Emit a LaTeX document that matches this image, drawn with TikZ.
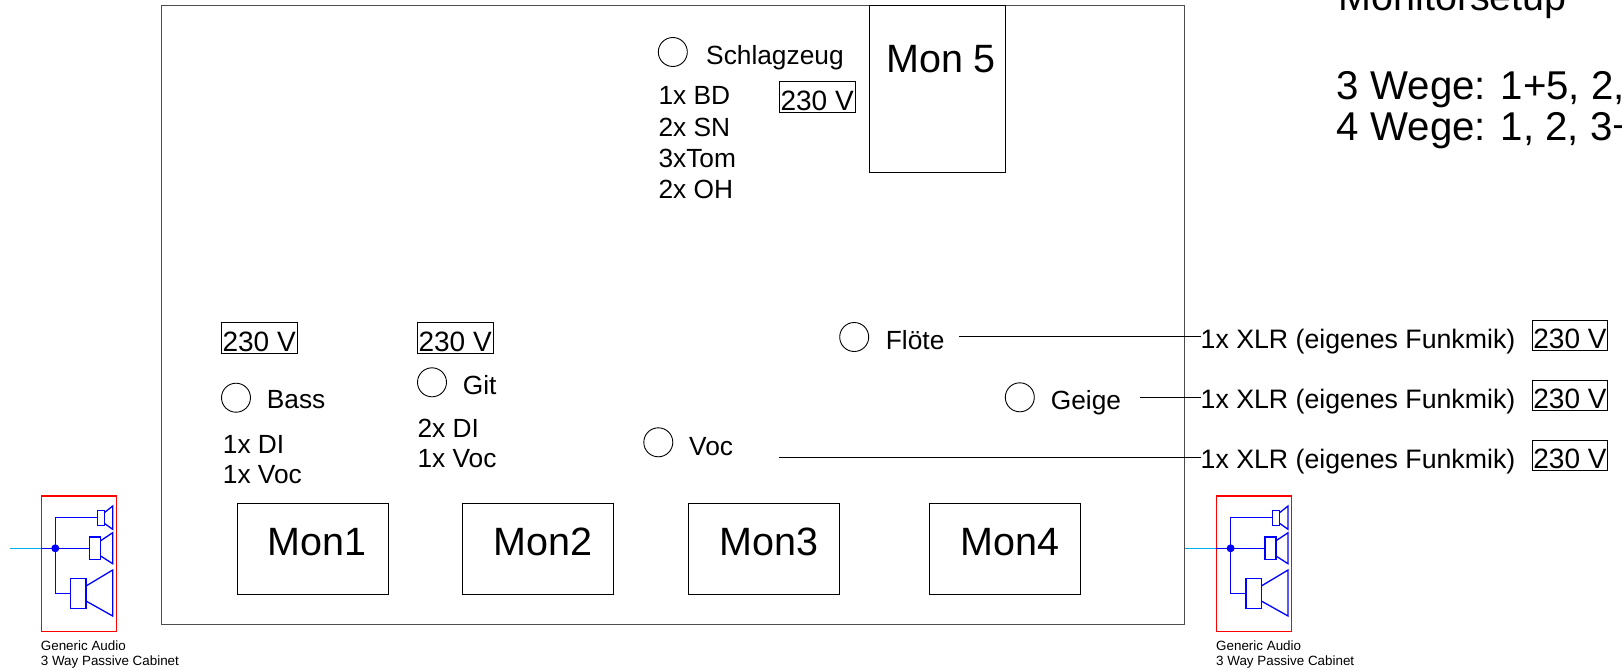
\documentclass[tikz,border=0pt]{standalone}
\usepackage{fontspec}
\setmainfont{Liberation Sans}
\begin{document}
\begin{tikzpicture}[x=1pt,y=-1pt,
  txt/.style={inner sep=0pt, anchor=base west, font=\fontsize{26.3}{30}\selectfont},
  xlrtxt/.style={inner sep=0pt, anchor=base west, font=\fontsize{26.7}{30}\selectfont},
  big/.style={inner sep=0pt, anchor=base west, font=\fontsize{39.5}{44}\selectfont},
  note/.style={inner sep=0pt, anchor=base west, font=\fontsize{40.2}{44}\selectfont},
  small/.style={inner sep=0pt, anchor=base west, font=\fontsize{13.4}{15}\selectfont},
  mic/.style={circle, draw, line width=0.9pt, minimum size=29pt, inner sep=0pt},
  monbox/.style={draw, line width=1pt, anchor=north west, minimum width=151pt, minimum height=91.3pt, inner sep=0pt},
  pwr/.style={draw, line width=0.8pt, anchor=north west, inner xsep=0pt, inner ysep=0pt,
    minimum width=75.5pt, text height=29pt, text depth=1.7pt, font=\fontsize{28}{30}\selectfont},
  wire/.style={line width=1pt},
  feed/.style={draw=cyan, line width=1pt},
  spk/.style={draw=blue, line width=1.3pt},
  cabinet/.pic={
    \node[draw=red, line width=1.3pt, anchor=north west, minimum width=75pt, minimum height=135.7pt, inner sep=0pt] (-box) at (0,0) {};
    \draw[spk] (0,53) -- (49,53);
    \draw[spk] (30,98) -- (14.6,98) -- (14.6,22.4) -- (56.6,22.4);
    \draw[spk] (56.6,15) rectangle (63.6,30);
    \draw[spk] (63.6,17.4) -- (72,10.7) -- (72,34) -- (63.6,28);
    \draw[spk] (49,41.7) rectangle (60,64);
    \draw[spk] (60,45.4) -- (72,37.4) -- (72,68.4) -- (60,60.7);
    \draw[spk] (30,83) rectangle (45.3,113);
    \draw[spk] (45.3,90.7) -- (72,74.7) -- (72,120.7) -- (45.3,105.7);
    \node[circle, fill=blue, inner sep=0pt, minimum size=8pt] (-dot) at (14.6,53) {};
    \node[small] (-t1) at (0,154.7) {Generic Audio};
    \node[small] (-t2) at (0,169.7) {3 Way Passive Cabinet};
  }]
\useasboundingbox (0,0) rectangle (1622,670);

% stage frame
\node[draw=black!70, line width=1pt, anchor=north west, minimum width=1023pt, minimum height=618.7pt, inner sep=0pt] (stage) at (161,5) {};

% monitor boxes
\node[monbox] (mon1) at (236.7,502.7) {};
\node[monbox] (mon2) at (462.3,502.7) {};
\node[monbox] (mon3) at (688.3,502.7) {};
\node[monbox] (mon4) at (929.3,502.7) {};
\node[big] (mon1t) at (267.7,555) {Mon1};
\node[big] (mon2t) at (493.3,555) {Mon2};
\node[big] (mon3t) at (719.3,555) {Mon3};
\node[big] (mon4t) at (960,555) {Mon4};
\node[draw, line width=1pt, anchor=north west, minimum width=136pt, minimum height=166.7pt, inner sep=0pt] (mon5) at (869,5) {};
\node[big] (mon5t) at (886,72.3) {Mon 5};

% drums
\node[mic] (drum) at (672.8,52) {};
\node[txt] (drumt) at (706,64.3) {Schlagzeug};
\node[txt] (d1) at (658.3,104.5) {1x BD};
\node[txt] (d2) at (658.3,136) {2x SN};
\node[txt] (d3) at (658.3,167.5) {3xTom};
\node[txt] (d4) at (658.3,198) {2x OH};
\node[pwr] (p0) at (779,81) {230 V};

% bass
\node[pwr] (p1) at (221,322) {230 V};
\node[mic] (bass) at (236,397.7) {};
\node[txt] (basst) at (266.7,408.3) {Bass};
\node[txt] (b1) at (222.7,453) {1x DI};
\node[txt] (b2) at (222.7,483) {1x Voc};

% guitar
\node[pwr] (p2) at (417,322) {230 V};
\node[mic] (git) at (432,382.3) {};
\node[txt] (gitt) at (462.7,394) {Git};
\node[txt] (g1) at (417.3,437.7) {2x DI};
\node[txt] (g2) at (417.3,467.7) {1x Voc};

% flute, violin, vocals
\node[mic] (fl) at (854.2,337) {};
\node[txt] (flt) at (885.7,349.3) {Flöte};
\node[mic] (ge) at (1019.8,397.3) {};
\node[txt] (get) at (1050.7,409) {Geige};
\node[mic] (voc) at (658.3,442.3) {};
\node[txt] (voct) at (689,455) {Voc};

% XLR feeds
\node[xlrtxt] (xlr1) at (1200.5,348.5) {1x XLR (eigenes Funkmik)};
\node[xlrtxt] (xlr2) at (1200.5,408.5) {1x XLR (eigenes Funkmik)};
\node[xlrtxt] (xlr3) at (1200.5,468.5) {1x XLR (eigenes Funkmik)};
\node[pwr] (p3) at (1531.8,319.5) {230 V};
\node[pwr] (p4) at (1531.8,379.5) {230 V};
\node[pwr] (p5) at (1531.8,439.5) {230 V};
\coordinate (fla) at (959.3,336.5);
\coordinate (gea) at (1139.5,397.5);
\coordinate (voca) at (779,457.7);
\draw[wire] (fla) -- (fla -| xlr1.west);
\draw[wire] (gea) -- (gea -| xlr2.west);
\draw[wire] (voca) -- (voca -| xlr3.west);

% monitor setup notes
\node[big] (ms) at (1338.3,10.5) {Monitorsetup};
\node[note] (w3) at (1336.7,99) {3 Wege: 1+5, 2,};
\node[note] (w4) at (1336.7,140) {4 Wege: 1, 2, 3+};

% cabinets
\pic (cL) at (40.7,495.3) {cabinet};
\pic (cR) at (1216,495.3) {cabinet};
\coordinate (feedL) at (10,548.3);
\draw[feed] (feedL) -- (cL-box.west |- feedL);
\draw[feed] (stage.east |- cR-dot) -- (cR-box.west |- cR-dot);
\end{tikzpicture}
\end{document}
